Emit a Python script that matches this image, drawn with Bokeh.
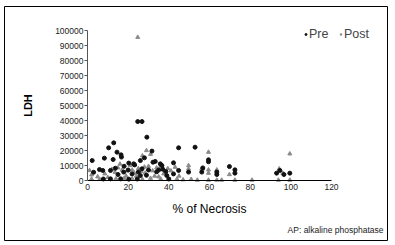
from bokeh.plotting import figure
from bokeh.models import Legend, LegendItem, Label, FixedTicker, Range1d
from bokeh.embed import file_html
from bokeh.resources import INLINE

# Pre values (% necrosis, LDH)
pre_x = [24.7, 26.8, 29.2, 12.9, 10.4, 14.5, 16.5, 31.7, 8.3, 2.3, 12.6, 20.3, 28, 44.8,
         42.3, 52.9, 22.7, 32.2, 16.7, 23.2, 26, 5.9, 7.5, 11.3, 13.7, 26.8, 17.8, 21.9,
         25, 26, 11.3, 16.3, 7.8, 20.3, 24.5, 33.3, 35.8, 36.6, 35, 37, 38.5, 34, 44.8,
         49.7, 56.2, 42.3, 39, 59.5, 59.5, 56.7, 63.6, 63.6, 69.8, 72.5, 72.5, 94.6, 93,
         96.6, 99.5, 30, 29, 40, 3, 15, 18, 20]
pre_y = [39300, 39300, 28900, 25100, 21800, 18900, 17100, 19600, 14900, 13300, 14000, 11600,
         15100, 21800, 11800, 22200, 11100, 12200, 15600, 10400, 13300, 7300, 6700, 6700,
         8200, 7800, 5600, 4400, 5600, 3300, 1100, 1100, 1000, 900, 1000, 12700, 11100,
         10000, 7000, 7500, 6000, 5800, 6700, 5600, 5600, 4400, 3300, 13800, 12500, 8400,
         5600, 4000, 9300, 7100, 4900, 6700, 4900, 4000, 4900, 7000, 3500, 1000, 5500,
         4000, 9500, 7000]

# Post values (% necrosis, LDH)
post_x = [24.7, 59.5, 99.5, 94.3, 96.1, 69.8, 63.6, 59.5, 59.5, 56.7, 49.7, 49.7, 43.1,
          56.2, 1, 2, 5, 8.5, 12, 13.5, 15, 17, 19.5, 22, 23, 25, 26.5, 28, 28.4, 27, 29,
          31, 30, 32, 34, 36, 37.5, 39.5, 41, 33, 10, 14, 18, 22, 27, 31, 36, 40, 44, 47,
          51, 54, 59.5, 63.6, 66, 72.5, 80.9, 93.9, 99.5, 6, 2, 19, 24, 35, 45, 21, 16]
post_y = [95500, 18900, 17800, 7800, 4900, 4000, 7100, 7100, 4900, 7800, 10000, 7800, 8900,
          7800, 6700, 3800, 2500, 4500, 7500, 5500, 8500, 7000, 6500, 7000, 5000, 8000,
          6000, 9000, 5000, 16500, 20000, 17500, 9500, 6500, 8500, 9500, 4500, 8000, 6500,
          3000, 2000, 1200, 1500, 1200, 800, 1500, 1000, 800, 1000, 500, 800, 300, 300,
          300, 300, 300, 300, 300, 300, 800, 1000, 3000, 3000, 2500, 3000, 10000, 11000]

x_ticks = [0, 20, 40, 60, 80, 100, 120]
y_ticks = [0, 10000, 20000, 30000, 40000, 50000, 60000, 70000, 80000, 90000, 100000]

FONT = "Liberation Sans"

# frame covers the whole boxed area; axes are drawn inside it at fixed locations
p = figure(width=389, height=242, output_backend="svg", toolbar_location=None,
           x_range=Range1d(-40.82, 147.54), y_range=Range1d(-40000, 116000),
           min_border_left=4, min_border_right=2, min_border_top=6, min_border_bottom=2)
p.outline_line_color = "black"
p.outline_line_width = 1
p.xgrid.visible = False
p.ygrid.visible = False
p.background_fill_color = "white"
p.border_fill_color = "white"

r_post = p.scatter(post_x, post_y, marker="triangle", size=4, color="#8a8a8a")
r_pre = p.scatter(pre_x, pre_y, marker="circle", size=4, color="#111111")

p.xaxis.fixed_location = 0
p.yaxis.fixed_location = 0
p.xaxis.bounds = (0, 120)
p.yaxis.bounds = (0, 100000)
p.xaxis.ticker = FixedTicker(ticks=x_ticks)
p.yaxis.ticker = FixedTicker(ticks=y_ticks)
p.yaxis.formatter.use_scientific = False
for ax in (p.xaxis, p.yaxis):
    ax.major_label_text_font = FONT
    ax.major_label_text_font_size = "8.5px"
    ax.major_label_text_color = "#222222"
    ax.minor_tick_line_color = None
    ax.axis_label_text_font = FONT
    ax.axis_label_text_color = "black"
p.xaxis.axis_line_color = "black"
p.xaxis.major_tick_out = 0
p.xaxis.major_tick_in = 0
p.xaxis.major_label_standoff = 3
p.xaxis.axis_label = "% of Necrosis"
p.xaxis.axis_label_text_font_size = "12px"
p.xaxis.axis_label_text_font_style = "normal"
p.xaxis.axis_label_standoff = 9

p.yaxis.axis_line_color = "#555555"
p.yaxis.major_tick_line_color = "#555555"
p.yaxis.major_tick_out = 3
p.yaxis.major_tick_in = 0
p.yaxis.major_label_standoff = 1
p.yaxis.axis_label = "LDH"
p.yaxis.axis_label_text_font_size = "11px"
p.yaxis.axis_label_text_font_style = "bold"
p.yaxis.axis_label_standoff = 18

legend = Legend(items=[LegendItem(label="Pre", renderers=[r_pre]),
                       LegendItem(label="Post", renderers=[r_post])],
                orientation="horizontal", location=(299, 199),
                glyph_width=5, glyph_height=12, label_standoff=1, spacing=9,
                padding=0, margin=0, border_line_color=None, background_fill_alpha=0,
                label_text_font=FONT, label_text_font_size="12.5px", label_height=12)
p.add_layout(legend, "center")

note = Label(x=379, y=11, x_units="screen", y_units="screen", text="AP: alkaline phosphatase",
             text_align="right", text_baseline="middle", text_font=FONT,
             text_font_size="8.5px", text_color="#222222")
p.add_layout(note)

open("out.html", "w").write(file_html(p, INLINE))
